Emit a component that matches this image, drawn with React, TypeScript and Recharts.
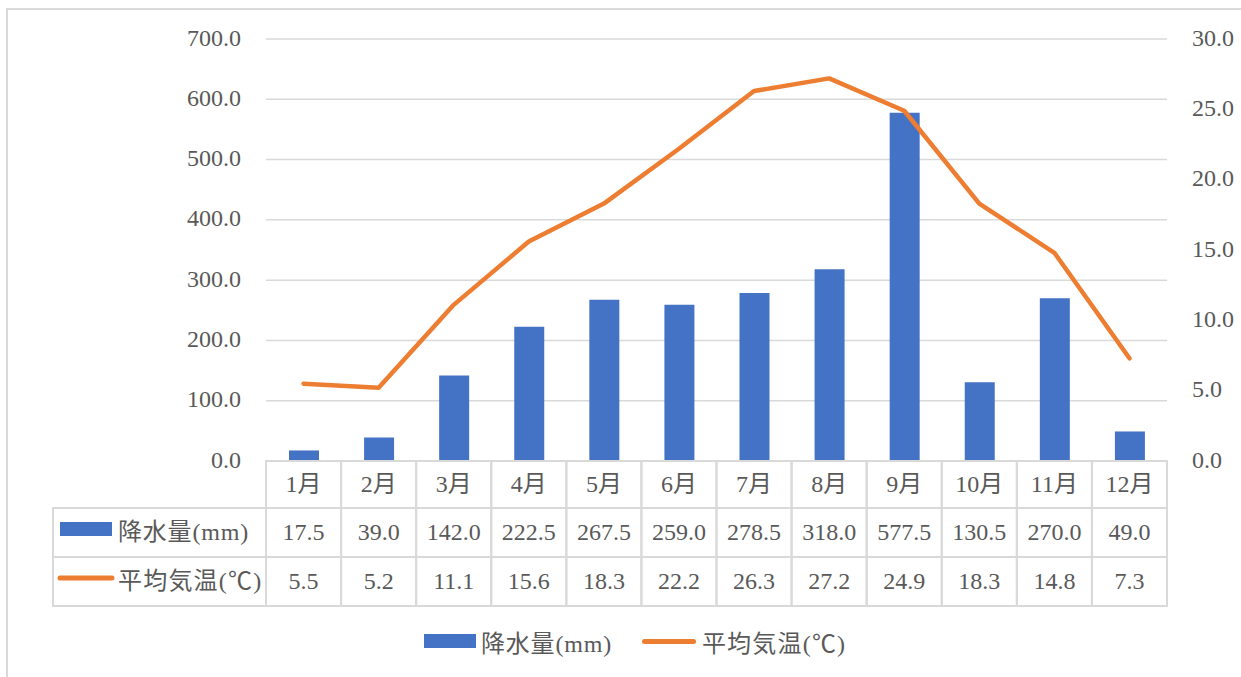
import React from "react";
import {
  ComposedChart,
  Bar,
  Line,
  XAxis,
  YAxis,
  CartesianGrid,
} from "recharts";

// ── data ──
const months = ["1月", "2月", "3月", "4月", "5月", "6月", "7月", "8月", "9月", "10月", "11月", "12月"];
const rainfall = [17.5, 39.0, 142.0, 222.5, 267.5, 259.0, 278.5, 318.0, 577.5, 130.5, 270.0, 49.0];
const avgTemp = [5.5, 5.2, 11.1, 15.6, 18.3, 22.2, 26.3, 27.2, 24.9, 18.3, 14.8, 7.3];
const rainTicks = [0, 100, 200, 300, 400, 500, 600, 700];
const tempTicks = [0, 5, 10, 15, 20, 25, 30];
const RAIN_LABEL = "降水量(mm)";
const TEMP_LABEL = "平均気温(℃)";

const chartData = months.map((m, i) => ({ month: m, rain: rainfall[i], temp: avgTemp[i] }));

// ── layout / style ──
const W = 1241;
const H = 677;
const PLOT_LEFT = 266;
const PLOT_RIGHT = 1167;
const PLOT_TOP = 39;
const PLOT_BOTTOM = 461;
const COL_W = (PLOT_RIGHT - PLOT_LEFT) / months.length;
const ROW_Y = [461, 508, 557, 606];
const TABLE_LEFT = 53;
const BLUE = "#4472C4";
const ORANGE = "#ED7D31";
const GRID = "#d9d9d9";
const TEXT = "#595959";
const FONT = '"Liberation Serif", "Noto Sans CJK JP", serif';
const FS = 24;

const LEFT_AXIS_W = 100;
const RIGHT_AXIS_W = 60;

const fmt = (v: number) => v.toFixed(1);

function TableColumn(props: any) {
  const { x, payload } = props;
  const i = months.indexOf(payload.value);
  if (i < 0) return null;
  const x0 = x - COL_W / 2;
  const mid = (a: number, b: number) => (a + b) / 2;
  return (
    <g>
      <rect x={x0} y={ROW_Y[0]} width={COL_W} height={ROW_Y[3] - ROW_Y[0]} fill="none" stroke={GRID} strokeWidth={2} />
      <line x1={x0} x2={x0 + COL_W} y1={ROW_Y[1]} y2={ROW_Y[1]} stroke={GRID} strokeWidth={2} />
      <line x1={x0} x2={x0 + COL_W} y1={ROW_Y[2]} y2={ROW_Y[2]} stroke={GRID} strokeWidth={2} />
      <text x={x} y={mid(ROW_Y[0], ROW_Y[1])} dy="0.3em" textAnchor="middle" fill={TEXT} fontSize={FS} fontFamily={FONT}>
        {months[i]}
      </text>
      <text x={x} y={mid(ROW_Y[1], ROW_Y[2])} dy="0.3em" textAnchor="middle" fill={TEXT} fontSize={FS} fontFamily={FONT}>
        {fmt(rainfall[i])}
      </text>
      <text x={x} y={mid(ROW_Y[2], ROW_Y[3])} dy="0.3em" textAnchor="middle" fill={TEXT} fontSize={FS} fontFamily={FONT}>
        {fmt(avgTemp[i])}
      </text>
      {i === 0 && (
        <g>
          <rect x={TABLE_LEFT} y={ROW_Y[1]} width={x0 - TABLE_LEFT} height={ROW_Y[3] - ROW_Y[1]} fill="none" stroke={GRID} strokeWidth={2} />
          <line x1={TABLE_LEFT} x2={x0} y1={ROW_Y[2]} y2={ROW_Y[2]} stroke={GRID} strokeWidth={2} />
          <rect x={60} y={522} width={52} height={14} fill={BLUE} />
          <text x={118} y={mid(ROW_Y[1], ROW_Y[2])} dy="0.3em" fill={TEXT} fontSize={FS} fontFamily={FONT} letterSpacing={0.8}>
            {RAIN_LABEL}
          </text>
          <line x1={60} x2={112} y1={578} y2={578} stroke={ORANGE} strokeWidth={5} strokeLinecap="round" />
          <text x={118} y={mid(ROW_Y[2], ROW_Y[3])} dy="0.3em" fill={TEXT} fontSize={FS} fontFamily={FONT} letterSpacing={1.2}>
            {TEMP_LABEL}
          </text>
        </g>
      )}
    </g>
  );
}

export default function App() {
  return (
    <div style={{ position: "absolute", left: 0, top: 0, width: W, height: H, background: "#fff", overflow: "hidden", fontFamily: FONT }}>
      <div style={{ position: "absolute", left: 6, top: 8, width: W, height: H, border: `2px solid ${GRID}` }} />
      <div style={{ position: "absolute", left: 0, top: 0 }}>
        <ComposedChart
          width={W}
          height={H}
          data={chartData}
          margin={{
            top: PLOT_TOP,
            bottom: H - PLOT_BOTTOM - 1,
            left: PLOT_LEFT - LEFT_AXIS_W,
            right: W - PLOT_RIGHT - RIGHT_AXIS_W,
          }}
        >
          <CartesianGrid vertical={false} stroke={GRID} strokeWidth={1.5} yAxisId="left" />
          <XAxis
            dataKey="month"
            height={1}
            interval={0}
            tickSize={0}
            tickMargin={0}
            axisLine={false}
            tickLine={false}
            tick={<TableColumn />}
          />
          <YAxis
            yAxisId="left"
            width={LEFT_AXIS_W}
            domain={[0, 700]}
            ticks={rainTicks}
            tickFormatter={fmt}
            axisLine={false}
            tickLine={false}
            tickSize={0}
            tickMargin={25}
            tick={{ fill: TEXT, fontSize: FS, fontFamily: FONT, dy: -2 }}
          />
          <YAxis
            yAxisId="right"
            orientation="right"
            width={RIGHT_AXIS_W}
            domain={[0, 30]}
            ticks={tempTicks}
            tickFormatter={fmt}
            axisLine={false}
            tickLine={false}
            tickSize={0}
            tickMargin={25}
            tick={{ fill: TEXT, fontSize: FS, fontFamily: FONT, dy: -2 }}
          />
          <Bar yAxisId="left" dataKey="rain" name={RAIN_LABEL} fill={BLUE} barSize={30} isAnimationActive={false} />
          <Line
            yAxisId="right"
            type="linear"
            dataKey="temp"
            name={TEMP_LABEL}
            stroke={ORANGE}
            strokeWidth={4.5}
            strokeLinejoin="round"
            strokeLinecap="round"
            dot={false}
            activeDot={false}
            isAnimationActive={false}
          />
        </ComposedChart>
      </div>
      {/* legend */}
      <div style={{ position: "absolute", left: 424, top: 624, height: 34, display: "flex", alignItems: "center", color: TEXT, fontSize: FS, whiteSpace: "nowrap" }}>
        <span style={{ display: "inline-block", width: 52, height: 14, background: BLUE, marginRight: 5 }} />
        <span style={{ letterSpacing: 0.8 }}>{RAIN_LABEL}</span>
        <span style={{ display: "inline-block", width: 54, height: 5, borderRadius: 3, background: ORANGE, marginLeft: 30, marginRight: 6 }} />
        <span style={{ letterSpacing: 1.2 }}>{TEMP_LABEL}</span>
      </div>
    </div>
  );
}
